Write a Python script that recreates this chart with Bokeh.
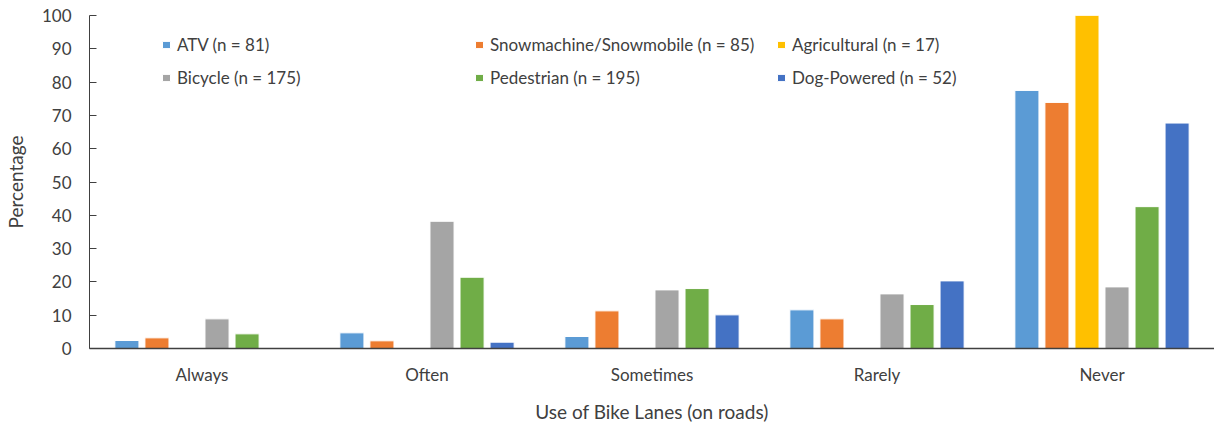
from bokeh.plotting import figure
from bokeh.models import FactorRange, Range1d, Legend, LegendItem, ColumnDataSource
from bokeh.transform import dodge
from bokeh.embed import file_html
from bokeh.resources import INLINE

categories = ["Always", "Often", "Sometimes", "Rarely", "Never"]
series_names = ["ATV (n = 81)", "Snowmachine/Snowmobile (n = 85)", "Agricultural (n = 17)",
                "Bicycle (n = 175)", "Pedestrian (n = 195)", "Dog-Powered (n = 52)"]
atv = [2.4, 4.7, 3.6, 11.6, 77.5]
snow = [3.2, 2.3, 11.3, 8.9, 73.9]
agri = [0, 0, 0, 0, 100]
bicycle = [8.9, 38.2, 17.6, 16.4, 18.5]
pedestrian = [4.4, 21.4, 18.0, 13.2, 42.6]
dog = [0, 1.9, 10.1, 20.3, 67.7]
colors = ["#5B9BD5", "#ED7D31", "#FFC000", "#A5A5A5", "#70AD47", "#4472C4"]
keys = ["atv", "snow", "agri", "bicycle", "pedestrian", "dog"]

src = ColumnDataSource(dict(cat=categories, atv=atv, snow=snow, agri=agri,
                            bicycle=bicycle, pedestrian=pedestrian, dog=dog))

FONT = "Lato"
W, H = 1214, 425
p = figure(width=W, height=H, x_range=FactorRange(*categories, range_padding=0),
           y_range=Range1d(0, 100), output_backend="svg", toolbar_location=None,
           min_border_left=87, min_border_right=0, min_border_top=15, min_border_bottom=77)
p.outline_line_color = None
p.xgrid.grid_line_color = None
p.ygrid.grid_line_color = None

pitch = 0.1335
bw = 0.107
renderers = []
for k, (key, c) in enumerate(zip(keys, colors)):
    r = p.vbar(x=dodge("cat", (k - 2.5) * pitch, range=p.x_range), top=key, width=bw,
               source=src, fill_color=c, line_color="white", line_width=1)
    renderers.append(r)

# axes
p.yaxis.ticker = list(range(0, 101, 10))
p.yaxis.major_tick_in = 7
p.yaxis.major_tick_out = 0
p.yaxis.minor_tick_line_color = None
p.yaxis.axis_line_color = "#404040"
p.yaxis.major_tick_line_color = "#404040"
p.yaxis.major_label_standoff = 18
p.yaxis.major_label_text_font = FONT
p.yaxis.major_label_text_font_size = "17px"
p.yaxis.major_label_text_color = "#404040"
p.yaxis.axis_label = "Percentage"
p.yaxis.axis_label_text_font = FONT
p.yaxis.axis_label_text_font_size = "19px"
p.yaxis.axis_label_text_font_style = "normal"
p.yaxis.axis_label_text_color = "#404040"
p.yaxis.axis_label_standoff = 12

p.xaxis.major_tick_line_color = None
p.xaxis.minor_tick_line_color = None
p.xaxis.axis_line_color = "#404040"
p.xaxis.axis_line_width = 1.5
p.xaxis.major_label_standoff = 9
p.xaxis.major_label_text_font = FONT
p.xaxis.major_label_text_font_size = "17px"
p.xaxis.major_label_text_color = "#404040"
p.xaxis.axis_label = "Use of Bike Lanes (on roads)"
p.xaxis.axis_label_text_font = FONT
p.xaxis.axis_label_text_font_size = "19px"
p.xaxis.axis_label_text_font_style = "normal"
p.xaxis.axis_label_text_color = "#404040"
p.xaxis.axis_label_standoff = 12

# legend in three columns
col_x = [72, 385, 687]
for ci in range(3):
    items = [LegendItem(label=series_names[ci], renderers=[renderers[ci]]),
             LegendItem(label=series_names[ci + 3], renderers=[renderers[ci + 3]])]
    lg = Legend(items=items, location=(col_x[ci], 260), orientation="vertical",
                glyph_width=10, glyph_height=9, label_height=20, spacing=12,
                label_standoff=6, padding=0, margin=0,
                border_line_color=None, background_fill_alpha=0,
                label_text_font=FONT, label_text_font_size="17px",
                label_text_color="#404040")
    p.add_layout(lg, "center")

open("out.html", "w").write(file_html(p, INLINE))
